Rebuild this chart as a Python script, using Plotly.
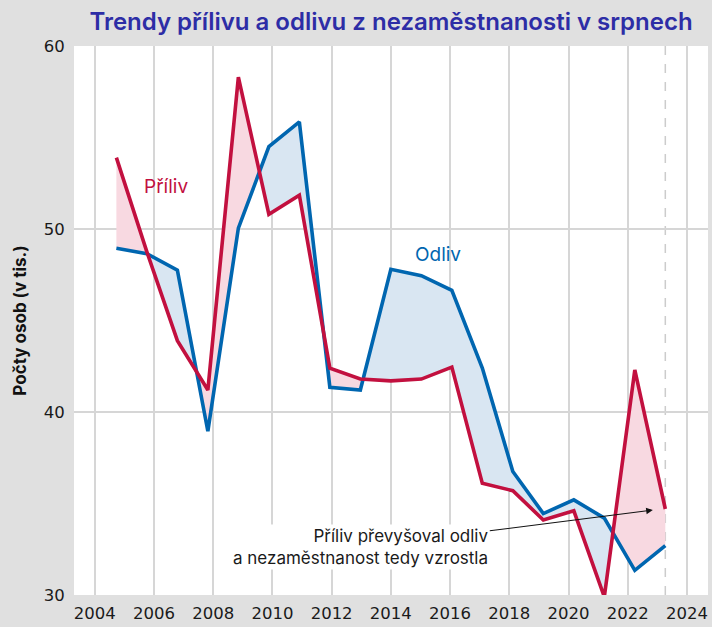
import plotly.graph_objects as go

# ---- data ----
years = list(range(2005, 2024))
priliv = [53.9, 48.75, 43.9, 41.2, 58.3, 50.8, 51.85, 42.4, 41.8, 41.7, 41.8, 42.45,
          36.1, 35.7, 34.1, 34.6, 29.9, 42.3, 34.7]
odliv = [48.95, 48.65, 47.75, 38.95, 50.05, 54.5, 55.85, 41.35, 41.2, 47.8, 47.45, 46.65,
         42.4, 36.75, 34.45, 35.2, 34.2, 31.35, 32.7]
tick_years = list(range(2004, 2025, 2))
y_ticks = [30, 40, 50, 60]

RED = "#C2103F"
BLUE = "#0066B0"
PINK_FILL = "#F8D9E1"
BLUE_FILL = "#D9E6F2"
BG = "#E0E0E0"
FONT = "Inter"
TICKFONT = "DejaVu Sans"

# ---- insert crossing points so fills switch colour exactly where lines cross ----
xa, ra, ba = [], [], []
n = len(years)
for i in range(n):
    xa.append(years[i]); ra.append(priliv[i]); ba.append(odliv[i])
    if i < n - 1:
        d0 = priliv[i] - odliv[i]
        d1 = priliv[i + 1] - odliv[i + 1]
        if d0 * d1 < 0:
            t = d0 / (d0 - d1)
            xc = years[i] + t * (years[i + 1] - years[i])
            yc = priliv[i] + t * (priliv[i + 1] - priliv[i])
            xa.append(xc); ra.append(yc); ba.append(yc)
lo = [min(a, b) for a, b in zip(ra, ba)]

fig = go.Figure()
common = dict(mode="lines", hoverinfo="skip", showlegend=False)
fig.add_trace(go.Scatter(x=xa, y=lo, line=dict(width=0), **common))
fig.add_trace(go.Scatter(x=xa, y=ra, line=dict(width=0), fill="tonexty",
                         fillcolor=PINK_FILL, **common))
fig.add_trace(go.Scatter(x=xa, y=lo, line=dict(width=0), **common))
fig.add_trace(go.Scatter(x=xa, y=ba, line=dict(width=0), fill="tonexty",
                         fillcolor=BLUE_FILL, **common))
fig.add_trace(go.Scatter(x=years, y=odliv, mode="lines", name="Odliv",
                         line=dict(color=BLUE, width=3.6), showlegend=False))
fig.add_trace(go.Scatter(x=years, y=priliv, mode="lines", name="Příliv",
                         line=dict(color=RED, width=3.6), showlegend=False))
# dummy trace for the labelled year axis
fig.add_trace(go.Scatter(x=[tick_years[0]], y=[None], xaxis="x2", mode="lines",
                         hoverinfo="skip", showlegend=False))

fig.add_shape(type="line", xref="x", yref="y domain", x0=years[-1], x1=years[-1],
              y0=0, y1=1, line=dict(color="#CCCCCC", width=1.5, dash="dash"),
              layer="below")

fig.add_annotation(x=2006.63, y=52.3, text="Příliv", showarrow=False,
                   font=dict(family=FONT, size=19, color=RED))
fig.add_annotation(x=2015.53, y=48.6, text="Odliv", showarrow=False,
                   font=dict(family=FONT, size=19, color=BLUE))
fig.add_annotation(x=2022.59, y=34.64,
                   text="Příliv převyšoval odliv<br>a nezaměstnanost tedy vzrostla",
                   showarrow=True, arrowhead=2, arrowsize=1.2, arrowwidth=1.1,
                   arrowcolor="#111111", axref="pixel", ayref="pixel",
                   ax=-292, ay=37, align="right", bgcolor="white",
                   borderpad=1, font=dict(family=FONT, size=17, color="#1A1A1A"))

fig.update_layout(
    width=712, height=627,
    margin=dict(l=74, r=4, t=46, b=32, autoexpand=False),
    paper_bgcolor=BG, plot_bgcolor="white",
    font=dict(family=FONT, size=16, color="#1A1A1A"),
    title=dict(text="Trendy přílivu a odlivu z nezaměstnanosti v srpnech",
               x=0.5, xref="paper", xanchor="center", y=0.966, yanchor="middle",
               font=dict(family=FONT, size=24, weight=600, color="#2D2DA6")),
    xaxis=dict(range=[2003.61, 2024.40], visible=False, showgrid=False),
    xaxis2=dict(overlaying="x", side="bottom", anchor="y", automargin=False,
                range=[2003.30, 2024.71], tickvals=tick_years,
                ticktext=[str(v) for v in tick_years],
                showgrid=True, gridcolor="#D6D6D6", gridwidth=1.5,
                zeroline=False, showline=False,
                ticks="outside", ticklen=3, tickcolor=BG,
                tickfont=dict(family=TICKFONT, size=16.5, color="#1A1A1A")),
    yaxis=dict(range=[30, 60], tickvals=y_ticks, showgrid=True, automargin=False,
               gridcolor="#D6D6D6", gridwidth=1.5, zeroline=False,
               ticks="outside", ticklen=5, tickcolor=BG,
               tickfont=dict(family=TICKFONT, size=16.5, color="#1A1A1A")),
)
fig.update_yaxes(title=dict(text="<b>Počty osob (v tis.)</b>", standoff=12,
                            font=dict(family=FONT, size=17, color="#111111")))

fig.write_html("out.html",
               config={"displayModeBar": False},
               post_script="document.body.style.margin='0';"
                           "document.body.style.overflow='hidden';")
